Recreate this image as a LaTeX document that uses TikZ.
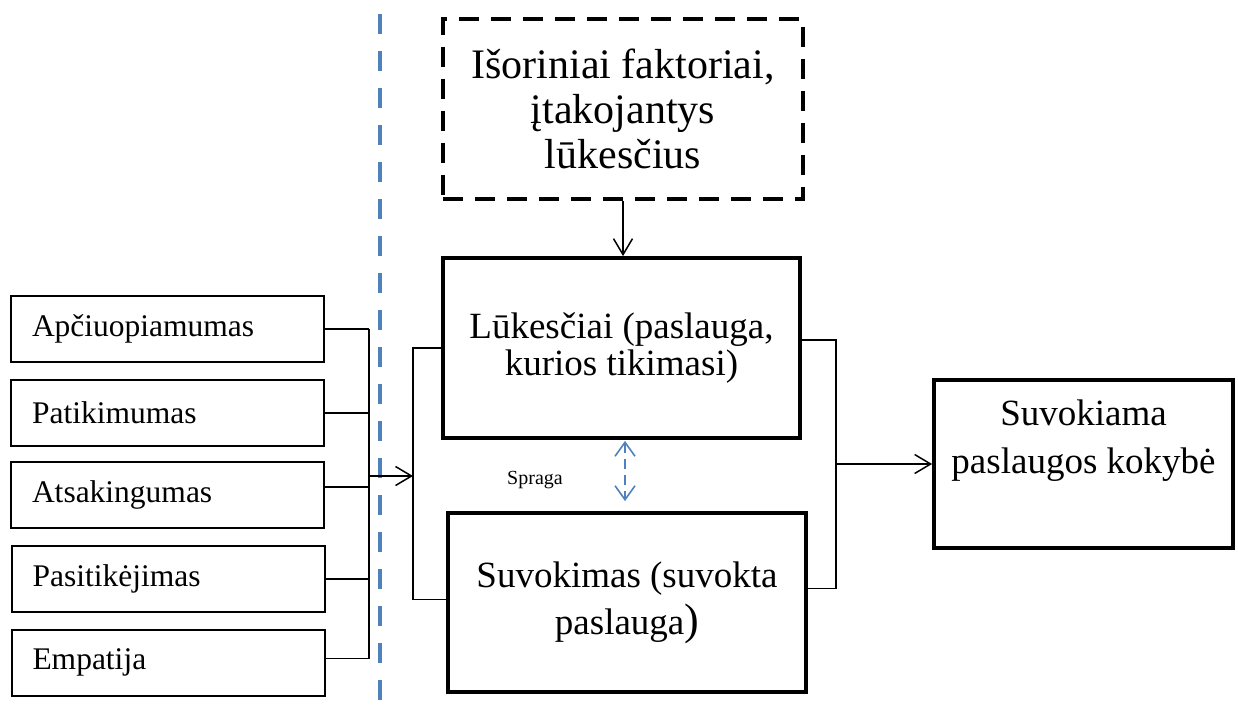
\documentclass[tikz,border=0pt]{standalone}
\usepackage{fontspec}
\setmainfont{Liberation Serif}
\usetikzlibrary{arrows.meta}
\definecolor{gapblue}{HTML}{4F81BD}
\begin{document}
\begin{tikzpicture}[x=1pt,y=-1pt,
  dimbox/.style={draw,line width=2pt,minimum height=66pt,text width=271pt,
    inner xsep=21pt,inner ysep=0pt,align=left,font=\fontsize{31.5}{36}\selectfont},
  mainbox/.style={draw,line width=3.8pt,inner sep=0pt,align=center},
  link/.style={line width=1.3pt},
  arr/.style={link,-{Straight Barb[length=16pt,width=19pt,line width=1.5pt]}}
]
\useasboundingbox (0,0) rectangle (1238,706);

% service quality dimensions
\node[dimbox] (d1) at (167.5,329) {Apčiuopiamumas};
\node[dimbox] (d2) at (167.5,413) {Patikimumas};
\node[dimbox] (d3) at (167.5,495) {Atsakingumas};
\node[dimbox] (d4) at (168,579) {Pasitikėjimas};
\node[dimbox] (d5) at (168,662.5) {Empatija};

% boundary line
\draw[gapblue,line width=4.5pt,dash pattern=on 20pt off 17pt] (380,14) -- (380,706);

% external factors
\node[draw,line width=4pt,dash pattern=on 20pt off 12pt,inner sep=0pt,align=center,
  minimum width=360pt,minimum height=180pt,
  font=\fontsize{42}{45}\selectfont] (ext) at (623,109)
  {Išoriniai faktoriai,\\įtakojantys\\lūkesčius};

% expectations and perception
\node[mainbox,minimum width=357pt,minimum height=180pt,
  font=\fontsize{37}{37.5}\selectfont] (luk) at (621.5,348)
  {Lūkesčiai (paslauga,\\kurios tikimasi)};
\node[mainbox,minimum width=358pt,minimum height=179pt,
  font=\fontsize{37}{47}\selectfont] (suv) at (627,602.5)
  {Suvokimas (suvokta\\paslauga{\fontsize{44}{47}\selectfont)}};

% result
\node[mainbox,minimum width=299pt,minimum height=168pt,
  font=\fontsize{37}{48}\selectfont] (res) at (1083.5,464)
  {Suvokiama\\paslaugos kokybė\\[6pt]\mbox{}};

% left bracket
\coordinate (jl) at (369,476);
\coordinate (jr) at (413,476);
\draw[link] (d1.east) -- (d1.east -| jl);
\draw[link] (d2.east) -- (d2.east -| jl);
\draw[link] ([yshift=8pt]d3.east) -- ([yshift=8pt]d3.east -| jl);
\draw[link] (d4.east) -- (d4.east -| jl);
\draw[link] ([yshift=4pt]d5.east) -- ([yshift=4pt]d5.east -| jl);
\draw[link] (d1.east -| jl) -- ([yshift=4pt]d5.east -| jl);
\draw[arr] (jl) -- (jr);

% bracket into the two central boxes
\draw[link] (luk.west) -| (jr);
\draw[link] ([yshift=3pt]suv.west) -| (jr);

% external factors into expectations
\draw[arr] (ext.south) -- (ext.south |- luk.north);

% gap between expectations and perception
\draw[gapblue,line width=1.6pt,dash pattern=on 10pt off 6pt,
  {Straight Barb[length=14pt,width=20pt]}-{Straight Barb[length=14pt,width=20pt]}]
  ([xshift=3.5pt,yshift=-1pt]luk.south) -- ([xshift=-2pt,yshift=10pt]suv.north);
\node[font=\fontsize{20}{22}\selectfont] (gap) at (535,480) {Spraga};

% bracket into the result
\coordinate (jo) at (836,464);
\draw[link] ([yshift=8pt]luk.east) -| (jo);
\draw[link] ([yshift=14pt]suv.east) -| (jo);
\draw[arr] (res.west -| jo) -- (res.west);
\end{tikzpicture}
\end{document}
